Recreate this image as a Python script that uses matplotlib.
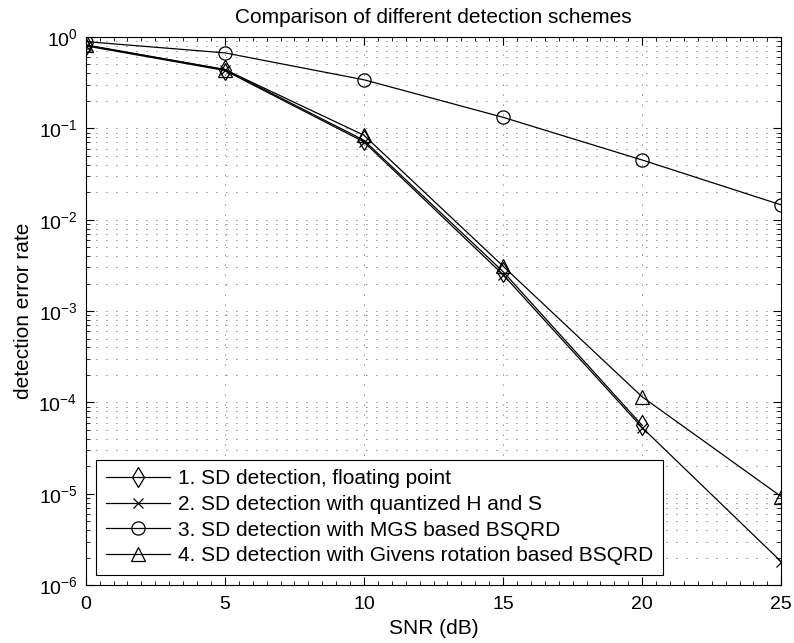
import numpy as np
import matplotlib
matplotlib.use("Agg")
from matplotlib import pyplot as plt
from matplotlib.ticker import LogLocator, MultipleLocator, NullFormatter

plt.rcParams['font.family'] = ['Liberation Sans', 'DejaVu Sans']
plt.rcParams['mathtext.fontset'] = 'custom'
plt.rcParams['mathtext.rm'] = 'Liberation Sans'

# SNR points and error rates
snr = [0, 5, 10, 15, 20, 25]
ser_float = [0.82, 0.44, 0.074, 0.0027, 5.6e-5, np.nan]
ser_quant = [0.80, 0.43, 0.071, 0.0025, 5.3e-5, 1.8e-6]
ser_mgs = [0.89, 0.67, 0.34, 0.132, 0.045, 0.0145]
ser_givens = [0.81, 0.44, 0.084, 0.0031, 1.15e-4, 9.3e-6]

labels = ["1. SD detection, floating point",
          "2. SD detection with quantized H and S",
          "3. SD detection with MGS based BSQRD",
          "4. SD detection with Givens rotation based BSQRD"]

fig = plt.figure(figsize=(7.94, 6.43), dpi=100)
ax = fig.add_axes([0.108, 0.09, 0.876, 0.8525])

lw = 0.9
ax.semilogy(snr, ser_float, '-', color='k', lw=lw, marker='d', ms=10.5, mfc='none', mew=0.9, label=labels[0])
ax.semilogy(snr, ser_quant, '-', color='k', lw=lw, marker='x', ms=6.5, mfc='none', mew=0.9, label=labels[1])
ax.semilogy(snr, ser_mgs, '-', color='k', lw=lw, marker='o', ms=9.5, mfc='none', mew=0.9, label=labels[2])
ax.semilogy(snr, ser_givens, '-', color='k', lw=lw, marker='^', ms=10, mfc='none', mew=0.9, label=labels[3])

ax.set_xlim(0, 25)
ax.set_ylim(1e-6, 1)
ax.xaxis.set_major_locator(MultipleLocator(5))
ax.xaxis.set_minor_locator(MultipleLocator(0.5))
ax.yaxis.set_major_locator(LogLocator(base=10, numticks=10))
ax.yaxis.set_minor_locator(LogLocator(base=10, subs=np.arange(2, 10), numticks=20))
ax.yaxis.set_minor_formatter(NullFormatter())
ax.tick_params(which='both', direction='in', top=True, right=True, labelsize=14)
ax.tick_params(which='major', length=6)
ax.tick_params(which='minor', length=3)
ax.tick_params(axis='x', which='major', pad=8)
ax.tick_params(axis='y', which='major', pad=6)

grid_ls = (0, (1, 11))
ax.grid(True, which='major', axis='both', ls=grid_ls, color='0.1', lw=0.6)
ax.grid(True, which='minor', axis='y', ls=grid_ls, color='0.1', lw=0.6)

ax.set_xlabel("SNR (dB)", fontsize=15, labelpad=4)
ax.set_ylabel("detection error rate", fontsize=15, labelpad=4)
ax.set_title("Comparison of different detection schemes", fontsize=15, pad=10)

leg = ax.legend(loc='lower left', fontsize=15, fancybox=False, framealpha=1,
                edgecolor='k', handlelength=3.1, handletextpad=0.4,
                borderaxespad=0.5, labelspacing=0.32, borderpad=0.45)
leg.get_frame().set_linewidth(0.8)

for s in ax.spines.values():
    s.set_linewidth(0.8)

fig.savefig("out.png", dpi=100)
